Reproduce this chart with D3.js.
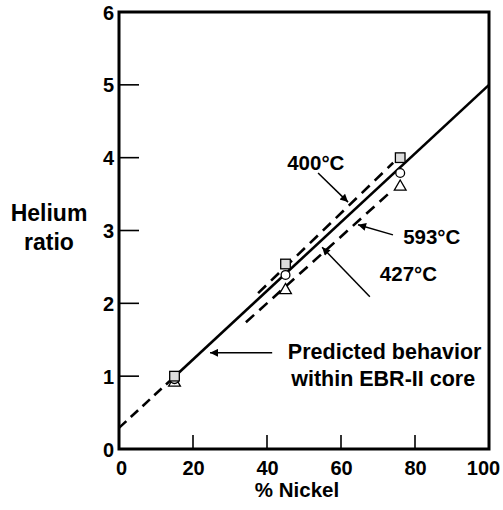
<!DOCTYPE html>
<html><head><meta charset="utf-8">
<script src="https://cdn.jsdelivr.net/npm/d3@7"></script>
<style>body{margin:0;background:#fff}svg{display:block}text{font-family:"Liberation Sans",Arial,Helvetica,sans-serif;font-weight:bold;fill:#000}</style>
</head><body>
<script>
// ---- data ----
const nickel = [15, 45, 76];
const ratioSquare = [1.0, 2.54, 4.0];     // squares
const ratioCircle = [0.96, 2.39, 3.79];   // circles
const ratioTriangle = [0.91, 2.18, 3.6];  // triangles
const xTicks = [0, 20, 40, 60, 80, 100];
const yTicks = [0, 1, 2, 3, 4, 5, 6];
// predicted behavior line
const predDashedX = [0, 14.5], predDashedY = [0.29, 0.97];
const predSolidX = [16, 100], predSolidY = [1.04, 5.0];
// fitted dashed lines
const fit400X = [37.6, 74.1], fit400Y = [2.14, 3.93];
const fit427X = [34.3, 74.05], fit427Y = [1.74, 3.56];
// annotation labels
const labels = ["400°C", "593°C", "427°C", "Predicted behavior", "within EBR-II core"];

// ---- layout ----
const W = 503, H = 510;
const x = d3.scaleLinear().domain([0, 100]).range([119, 489]);
const y = d3.scaleLinear().domain([0, 6]).range([449, 12]);
const svg = d3.select("body").append("svg").attr("width", W).attr("height", H);

// frame
svg.append("rect").attr("x", x(0)).attr("y", y(6)).attr("width", x(100) - x(0)).attr("height", y(0) - y(6))
  .attr("fill", "none").attr("stroke", "#000").attr("stroke-width", 3);

// axes (ticks inward)
const xAxis = d3.axisBottom(x).tickValues(xTicks).tickSize(0).tickPadding(0).tickFormat(d3.format("d"));
const gx = svg.append("g").attr("transform", `translate(0,${y(0)})`).call(xAxis);
gx.select(".domain").remove();
gx.selectAll(".tick text").attr("y", 26).attr("dy", 0).style("font-size", "20px")
  .attr("x", d => d === 100 ? -6 : (d === 0 ? 2 : 0));
svg.append("g").selectAll("line").data(xTicks.filter(d => d > 0 && d < 100)).join("line")
  .attr("x1", d => x(d)).attr("x2", d => x(d)).attr("y1", y(0)).attr("y2", y(0) - 14)
  .attr("stroke", "#000").attr("stroke-width", 1.6);

const yAxis = d3.axisLeft(y).tickValues(yTicks).tickSize(0).tickPadding(5).tickFormat(d3.format("d"));
const gy = svg.append("g").attr("transform", `translate(${x(0)},0)`).call(yAxis);
gy.select(".domain").remove();
gy.selectAll(".tick text").attr("dy", "0.35em").style("font-size", "20px");
svg.append("g").selectAll("line").data(yTicks.filter(d => d > 0 && d < 6)).join("line")
  .attr("x1", x(0)).attr("x2", x(0) + 20).attr("y1", d => y(d)).attr("y2", d => y(d))
  .attr("stroke", "#000").attr("stroke-width", 1.6);

// axis titles
svg.append("text").attr("x", 297).attr("y", 497).attr("text-anchor", "middle").style("font-size", "20.5px").text("% Nickel");
svg.append("text").attr("x", 49).attr("y", 221).attr("text-anchor", "middle").style("font-size", "23px").text("Helium");
svg.append("text").attr("x", 49).attr("y", 250).attr("text-anchor", "middle").style("font-size", "23px").text("ratio");

// lines
const line = d3.line().x(d => x(d[0])).y(d => y(d[1]));
function seg(xs, ys, dash) {
  svg.append("path").attr("d", line(d3.zip(xs, ys))).attr("fill", "none").attr("stroke", "#000")
    .attr("stroke-width", 2.6).attr("stroke-dasharray", dash);
}
seg(predDashedX, predDashedY, "10,6");
seg(predSolidX, predSolidY, null);
seg(fit400X, fit400Y, "11,7");
seg(fit427X, fit427Y, "11,7");

// markers
const g = svg.append("g").attr("stroke", "#000").attr("stroke-width", 1.3);
g.selectAll(".tri").data(d3.zip(nickel, ratioTriangle)).join("path")
  .attr("d", d3.symbol(d3.symbolTriangle, 60)).attr("fill", "#fff")
  .attr("transform", d => `translate(${x(d[0])},${y(d[1])})`);
g.selectAll(".cir").data(d3.zip(nickel, ratioCircle)).join("circle")
  .attr("cx", d => x(d[0])).attr("cy", d => y(d[1])).attr("r", 4.4).attr("fill", "#fff");
g.selectAll(".sq").data(d3.zip(nickel, ratioSquare)).join("rect")
  .attr("x", d => x(d[0]) - 4.8).attr("y", d => y(d[1]) - 4.8).attr("width", 9.6).attr("height", 9.6).attr("fill", "#ddd");

// arrows
svg.append("defs").append("marker").attr("id", "ah").attr("viewBox", "0 0 10 10").attr("refX", 10).attr("refY", 5)
  .attr("markerWidth", 12).attr("markerHeight", 8).attr("markerUnits", "userSpaceOnUse").attr("orient", "auto")
  .append("path").attr("d", "M0,0L10,5L0,10Z").attr("fill", "#000");
const arrows = [
  [[53.8, 3.79], [61.9, 3.39]],
  [[74.05, 2.94], [64.6, 3.08]],
  [[67.8, 2.09], [54.9, 2.77]],
  [[41.4, 1.32], [24.6, 1.32]]
];
svg.append("g").selectAll("line").data(arrows).join("line")
  .attr("x1", d => x(d[0][0])).attr("y1", d => y(d[0][1]))
  .attr("x2", d => x(d[1][0])).attr("y2", d => y(d[1][1]))
  .attr("stroke", "#000").attr("stroke-width", 1.5).attr("marker-end", "url(#ah)");

// labels
const labelPos = [
  [53.2, 3.93, "middle", 20.5], [76.8, 2.91, "start", 20.5], [70.5, 2.40, "start", 20.5],
  [71.8, 1.34, "middle", 21.5], [71.4, 0.97, "middle", 21.5]
];
svg.append("g").selectAll("text").data(labels).join("text")
  .attr("x", (d, i) => x(labelPos[i][0])).attr("y", (d, i) => y(labelPos[i][1]))
  .attr("dy", "0.35em").attr("text-anchor", (d, i) => labelPos[i][2])
  .style("font-size", (d, i) => labelPos[i][3] + "px").text(d => d);
</script>
</body></html>
